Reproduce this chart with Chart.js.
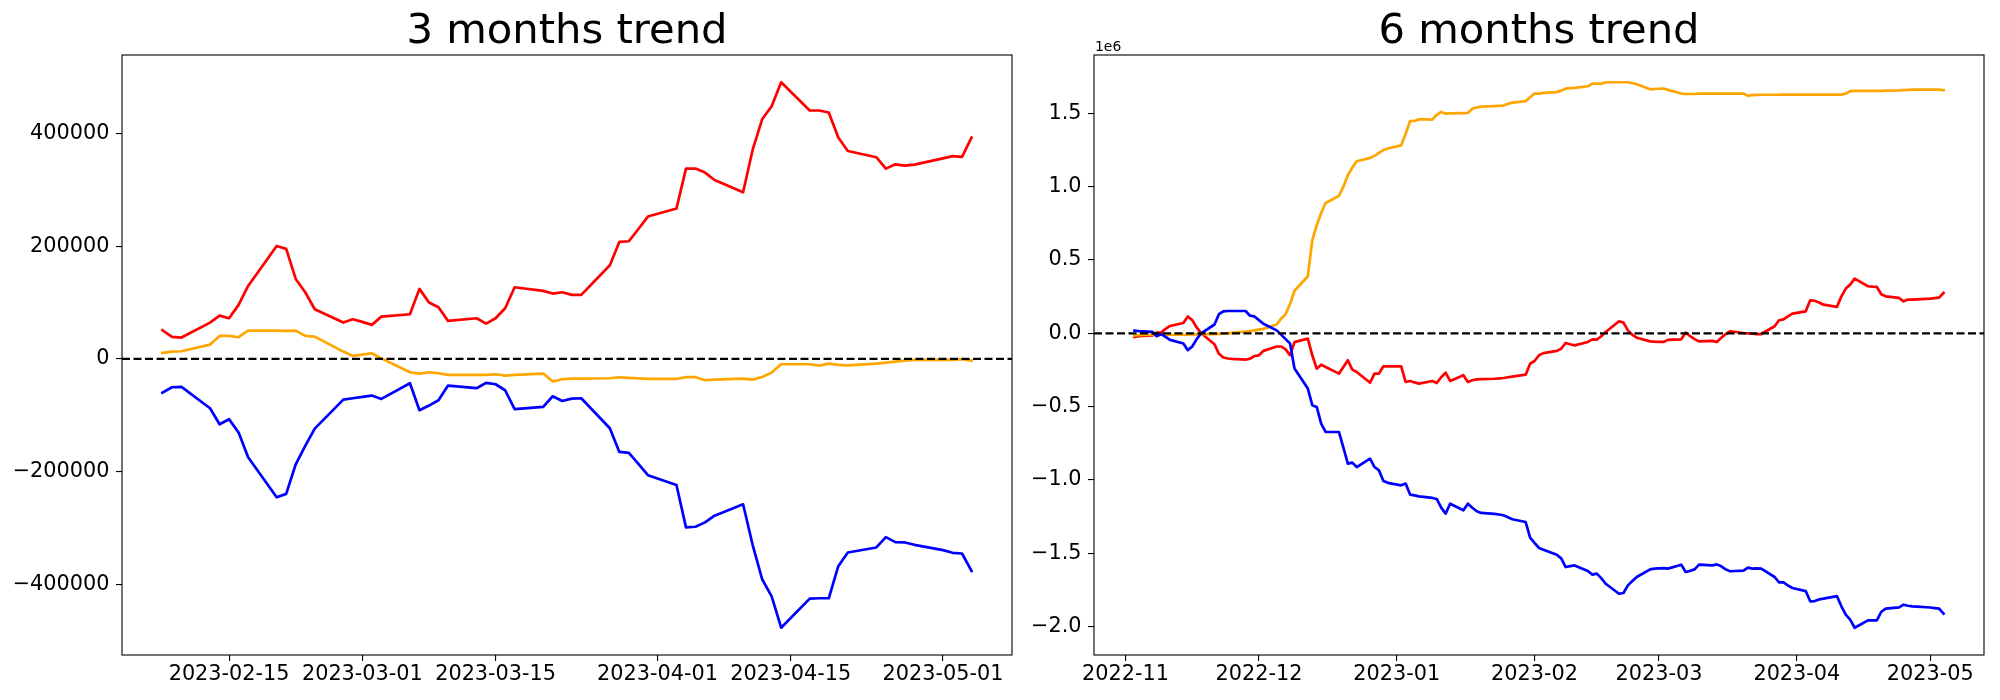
<!DOCTYPE html>
<html><head><meta charset="utf-8">
<script src="https://cdn.jsdelivr.net/npm/chart.js@4.4.0/dist/chart.umd.min.js"></script>
<style>
html,body{margin:0;padding:0;background:#fff;width:2000px;height:700px;overflow:hidden;}
canvas{position:absolute;top:0;}
#c3{left:0;width:1024px;height:700px;}
#c6{left:1024px;width:976px;height:700px;}
</style></head><body>
<canvas id="c3" width="1024" height="700"></canvas>
<canvas id="c6" width="976" height="700"></canvas>
<script>
// ---------- 3 months trend ----------
const dates3m = ['2023-02-08','2023-02-09','2023-02-10','2023-02-13','2023-02-14','2023-02-15','2023-02-16','2023-02-17','2023-02-20','2023-02-21','2023-02-22','2023-02-23','2023-02-24','2023-02-27','2023-02-28',
'2023-03-01','2023-03-02','2023-03-03','2023-03-06','2023-03-07','2023-03-08','2023-03-09','2023-03-10','2023-03-13','2023-03-14','2023-03-15','2023-03-16','2023-03-17','2023-03-20','2023-03-21','2023-03-22','2023-03-23','2023-03-24','2023-03-27','2023-03-28','2023-03-29','2023-03-30','2023-03-31',
'2023-04-03','2023-04-04','2023-04-05','2023-04-06','2023-04-07','2023-04-10','2023-04-11','2023-04-12','2023-04-13','2023-04-14','2023-04-17','2023-04-18','2023-04-19','2023-04-20','2023-04-21','2023-04-24','2023-04-25','2023-04-26','2023-04-27','2023-04-28',
'2023-05-01','2023-05-02','2023-05-03','2023-05-04'];
const red3m = [50900,39000,37900,64500,76900,72200,95900,129600,200600,195300,142000,118300,88200,64500,70400,
65700,60400,75100,79300,124300,100000,91700,67500,72200,62700,72200,90000,127200,120700,116000,118300,113600,113600,166300,207700,208900,230700,252700,
266900,337900,337900,330800,317700,295900,371000,425400,448500,491100,441000,441000,437500,393000,369000,358000,337800,345500,343000,345000,
356000,360000,358600,393000];
const orange3m = [10700,13000,13600,25400,40800,40800,38500,50300,50300,49700,50300,40800,39600,13000,5300,
7700,10000,1000,-23700,-26000,-23700,-25400,-28400,-28400,-28400,-27200,-29600,-28400,-26000,-40200,-36100,-34900,-34900,-34300,-32500,-33700,-34600,-35500,
-35500,-32500,-32500,-37900,-36700,-34900,-36700,-32000,-24300,-9500,-9500,-11900,-8300,-10700,-11300,-8300,-6500,-4700,-3000,-1800,
-1800,-1800,-600,-3000];
const blue3m = [-59800,-50300,-49700,-87600,-116000,-107100,-130800,-174600,-245600,-239600,-187000,-154400,-123700,-72200,-69800,
-67500,-65100,-71000,-43200,-91100,-82800,-73400,-47300,-52000,-42600,-45000,-55600,-89300,-85200,-66300,-74600,-70400,-69800,-123100,-165100,-166900,-186400,-206500,
-223700,-299100,-297900,-290200,-278300,-258100,-330000,-391100,-421400,-477200,-425500,-424900,-424900,-367900,-343600,-334700,-316300,-325200,-325800,-330000,
-339500,-344200,-345400,-376300];
const xTicks3m = ['2023-02-15','2023-03-01','2023-03-15','2023-04-01','2023-04-15','2023-05-01'];
const yTicks3m = [-400000,-200000,0,200000,400000];

// ---------- 6 months trend (values in units of 1e6) ----------
const dates6m = ['2022-11-03','2022-11-04','2022-11-07','2022-11-08','2022-11-09','2022-11-10','2022-11-11','2022-11-14','2022-11-15','2022-11-16','2022-11-17','2022-11-18','2022-11-21','2022-11-22','2022-11-23','2022-11-24','2022-11-25','2022-11-28','2022-11-29','2022-11-30',
'2022-12-01','2022-12-02','2022-12-05','2022-12-06','2022-12-07','2022-12-08','2022-12-09','2022-12-12','2022-12-13','2022-12-14','2022-12-15','2022-12-16','2022-12-19','2022-12-20','2022-12-21','2022-12-22','2022-12-23','2022-12-26','2022-12-27','2022-12-28','2022-12-29','2022-12-30',
'2023-01-02','2023-01-03','2023-01-04','2023-01-05','2023-01-06','2023-01-09','2023-01-10','2023-01-11','2023-01-12','2023-01-13','2023-01-16','2023-01-17','2023-01-18','2023-01-19','2023-01-20','2023-01-23','2023-01-24','2023-01-25','2023-01-26','2023-01-27','2023-01-30','2023-01-31',
'2023-02-01','2023-02-02','2023-02-03','2023-02-06','2023-02-07','2023-02-08','2023-02-09','2023-02-10','2023-02-13','2023-02-14','2023-02-15','2023-02-16','2023-02-17','2023-02-20','2023-02-21','2023-02-22','2023-02-23','2023-02-24','2023-02-27','2023-02-28',
'2023-03-01','2023-03-02','2023-03-03','2023-03-06','2023-03-07','2023-03-08','2023-03-09','2023-03-10','2023-03-13','2023-03-14','2023-03-15','2023-03-16','2023-03-17','2023-03-20','2023-03-21','2023-03-22','2023-03-23','2023-03-24','2023-03-27','2023-03-28','2023-03-29','2023-03-30','2023-03-31',
'2023-04-03','2023-04-04','2023-04-05','2023-04-06','2023-04-07','2023-04-10','2023-04-11','2023-04-12','2023-04-13','2023-04-14','2023-04-17','2023-04-18','2023-04-19','2023-04-20','2023-04-21','2023-04-24','2023-04-25','2023-04-26','2023-04-27','2023-04-28',
'2023-05-01','2023-05-02','2023-05-03','2023-05-04'];
const red6m = [-0.025,-0.02,-0.015,0.005,0.005,0.03,0.05,0.07,0.115,0.09,0.04,0.0,-0.075,-0.14,-0.165,-0.172,-0.175,-0.18,-0.173,-0.155,
-0.15,-0.12,-0.09,-0.09,-0.11,-0.15,-0.06,-0.036,-0.15,-0.241,-0.214,-0.23,-0.275,-0.23,-0.184,-0.248,-0.264,-0.337,-0.275,-0.275,-0.225,-0.225,
-0.225,-0.332,-0.325,-0.335,-0.343,-0.325,-0.339,-0.3,-0.268,-0.325,-0.286,-0.332,-0.32,-0.314,-0.312,-0.31,-0.308,-0.305,-0.3,-0.295,-0.282,-0.207,
-0.189,-0.15,-0.135,-0.12,-0.105,-0.066,-0.075,-0.082,-0.059,-0.041,-0.043,-0.02,0.009,0.082,0.073,0.02,-0.01,-0.03,-0.055,-0.057,
-0.058,-0.059,-0.045,-0.041,0.005,-0.02,-0.04,-0.055,-0.052,-0.059,-0.03,-0.005,0.014,0.002,0.0,-0.003,-0.005,-0.005,0.048,0.089,0.095,0.115,0.134,
0.15,0.225,0.222,0.21,0.195,0.18,0.25,0.305,0.332,0.373,0.321,0.318,0.316,0.266,0.252,0.241,0.218,0.23,0.23,0.232,
0.237,0.24,0.243,0.275];
const orange6m = [-0.015,-0.012,-0.01,-0.01,-0.01,-0.01,-0.01,-0.01,-0.01,-0.008,-0.007,-0.006,-0.005,-0.004,-0.003,0.0,0.003,0.012,0.015,0.02,
0.025,0.03,0.06,0.1,0.13,0.2,0.29,0.389,0.634,0.737,0.82,0.889,0.937,1.0,1.078,1.13,1.173,1.196,1.21,1.23,1.25,1.26,
1.282,1.36,1.448,1.448,1.46,1.457,1.49,1.51,1.498,1.5,1.502,1.503,1.532,1.54,1.546,1.55,1.552,1.553,1.565,1.573,1.583,1.61,
1.635,1.635,1.64,1.645,1.655,1.669,1.672,1.674,1.685,1.703,1.703,1.701,1.712,1.712,1.712,1.712,1.705,1.699,1.664,1.666,
1.668,1.669,1.66,1.635,1.632,1.632,1.632,1.634,1.635,1.635,1.635,1.635,1.635,1.635,1.619,1.625,1.626,1.627,1.627,1.627,1.628,1.628,1.628,
1.628,1.628,1.628,1.628,1.628,1.628,1.628,1.635,1.651,1.653,1.653,1.653,1.653,1.653,1.655,1.657,1.659,1.66,1.662,1.662,
1.662,1.662,1.662,1.658];
const blue6m = [0.018,0.015,0.01,-0.02,-0.005,-0.025,-0.045,-0.07,-0.115,-0.09,-0.04,0.0,0.06,0.13,0.15,0.152,0.152,0.152,0.12,0.115,
0.09,0.065,0.02,-0.009,-0.04,-0.07,-0.24,-0.377,-0.49,-0.502,-0.616,-0.673,-0.673,-0.78,-0.889,-0.882,-0.912,-0.855,-0.912,-0.935,-1.007,-1.02,
-1.037,-1.025,-1.1,-1.105,-1.112,-1.123,-1.13,-1.189,-1.23,-1.162,-1.207,-1.162,-1.19,-1.214,-1.225,-1.232,-1.236,-1.241,-1.255,-1.268,-1.287,-1.394,
-1.43,-1.464,-1.476,-1.51,-1.535,-1.594,-1.588,-1.583,-1.621,-1.646,-1.639,-1.67,-1.708,-1.776,-1.771,-1.719,-1.69,-1.662,-1.61,-1.605,
-1.603,-1.601,-1.605,-1.578,-1.628,-1.62,-1.61,-1.578,-1.583,-1.576,-1.589,-1.61,-1.623,-1.619,-1.598,-1.605,-1.603,-1.605,-1.662,-1.699,-1.699,-1.72,-1.737,
-1.758,-1.828,-1.826,-1.815,-1.81,-1.792,-1.86,-1.919,-1.953,-2.008,-1.958,-1.958,-1.958,-1.899,-1.878,-1.869,-1.851,-1.858,-1.862,-1.864,
-1.87,-1.874,-1.878,-1.912];
const xTicks6m = ['2022-11','2022-12','2023-01','2023-02','2023-03','2023-04','2023-05'];
const yTicks6m = [-2.0,-1.5,-1.0,-0.5,0.0,0.5,1.0,1.5];

// ---------- rendering ----------
const FONT = 'DejaVu Sans';
const MINUS = '\u2212';

const framePlugin = {
  id: 'frame',
  afterDraw(chart, args, opts) {
    const a = chart.chartArea, c = chart.ctx;
    c.save();
    c.strokeStyle = '#000';
    c.lineWidth = 1.1;
    c.strokeRect(a.left, a.top, a.right - a.left, a.bottom - a.top);
    if (opts && opts.offsetText) {
      c.fillStyle = '#000';
      c.font = '13.9px "' + FONT + '"';
      c.textAlign = 'left';
      c.textBaseline = 'alphabetic';
      c.fillText(opts.offsetText, a.left + 1, a.top - 4);
    }
    c.restore();
  }
};

function build(id, titleText, dates, series, xTickLabels, xTickDate, yTicks, yFmt, geom, offsetText) {
  const xs = dates.map(d => Date.parse(d));
  const x0 = Math.min(...xs), x1 = Math.max(...xs), xm = (x1 - x0) * 0.05;
  let all = [];
  series.forEach(s => { all = all.concat(s.values); });
  const y0 = Math.min(...all), y1 = Math.max(...all), ym = (y1 - y0) * 0.05;
  const datasets = [{
    label: 'zero', data: [{x: x0 - xm, y: 0}, {x: x1 + xm, y: 0}],
    borderColor: '#000', borderWidth: 2.2, borderDash: [8, 3.5], pointRadius: 0, order: 0
  }];
  series.forEach((s, i) => {
    datasets.push({
      label: s.name, data: xs.map((x, j) => ({x: x, y: s.values[j]})),
      borderColor: s.color, borderWidth: 2.7, pointRadius: 0, tension: 0,
      borderJoinStyle: 'round', borderCapStyle: 'square', order: series.length - i
    });
  });
  const tickFont = {family: FONT, size: 20.8};
  const grid = {drawOnChartArea: false, drawTicks: true, tickLength: 6, color: '#000', lineWidth: 1.1};
  return new Chart(document.getElementById(id), {
    type: 'line',
    data: {datasets: datasets},
    options: {
      responsive: false, animation: false, devicePixelRatio: 1, events: [],
      layout: {padding: {left: 0, right: geom.padRight, top: 0, bottom: 0}},
      plugins: {
        legend: {display: false}, tooltip: {enabled: false},
        title: {display: true, text: titleText, fullSize: false, color: '#000',
          font: {family: FONT, size: 41.7, weight: 'normal', lineHeight: 1.0},
          padding: {top: 11.8, bottom: 1.5}},
        frame: {offsetText: offsetText}
      },
      scales: {
        x: {
          type: 'linear', min: x0 - xm, max: x1 + xm,
          afterBuildTicks: ax => { ax.ticks = xTickLabels.map(t => ({value: Date.parse(xTickDate(t))})); },
          afterFit: ax => { ax.height = 45; },
          ticks: {callback: (v, i) => xTickLabels[i], font: tickFont, color: '#000', padding: 1, maxRotation: 0, autoSkip: false},
          grid: grid, border: {display: false}
        },
        y: {
          type: 'linear', min: y0 - ym, max: y1 + ym,
          afterBuildTicks: ax => { ax.ticks = yTicks.map(v => ({value: v})); },
          afterFit: ax => { ax.width = geom.yWidth; },
          ticks: {callback: v => yFmt(v), font: tickFont, color: '#000', padding: 6.5, autoSkip: false},
          grid: grid, border: {display: false}
        }
      }
    },
    plugins: [framePlugin]
  });
}

const fmtInt = v => (v < 0 ? MINUS : '') + Math.abs(Math.round(v)).toString();
const fmt1 = v => (v < -1e-9 ? MINUS : '') + Math.abs(v).toFixed(1);

build('c3', '3 months trend', dates3m,
  [{name: 'red', color: '#ff0000', values: red3m},
   {name: 'orange', color: '#ffa500', values: orange3m},
   {name: 'blue', color: '#0000ff', values: blue3m}],
  xTicks3m, t => t, yTicks3m, fmtInt, {padRight: 12, yWidth: 122}, null);

build('c6', '6 months trend', dates6m,
  [{name: 'red', color: '#ff0000', values: red6m},
   {name: 'orange', color: '#ffa500', values: orange6m},
   {name: 'blue', color: '#0000ff', values: blue6m}],
  xTicks6m, t => t + '-01', yTicks6m, fmt1, {padRight: 16, yWidth: 70}, '1e6');
</script>
</body></html>
